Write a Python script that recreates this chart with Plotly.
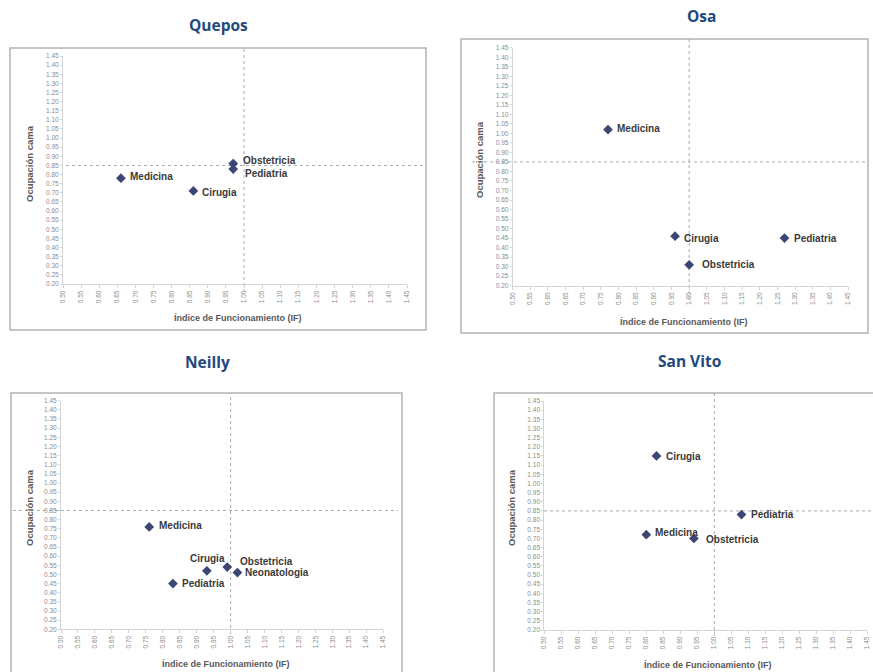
import plotly.graph_objects as go

# ---- data -------------------------------------------------------------
hospitales = ["Quepos", "Osa", "Neilly", "San Vito"]

quepos_servicios = ["Medicina", "Cirugia", "Obstetricia", "Pediatria"]
quepos_if = [0.66, 0.86, 0.97, 0.97]
quepos_ocupacion = [0.78, 0.71, 0.86, 0.83]

osa_servicios = ["Medicina", "Cirugia", "Pediatria", "Obstetricia"]
osa_if = [0.77, 0.96, 1.27, 1.00]
osa_ocupacion = [1.02, 0.46, 0.45, 0.31]

neilly_servicios = ["Medicina", "Cirugia", "Obstetricia", "Neonatologia", "Pediatria"]
neilly_if = [0.76, 0.93, 0.99, 1.02, 0.83]
neilly_ocupacion = [0.76, 0.52, 0.54, 0.51, 0.45]

sanvito_servicios = ["Cirugia", "Pediatria", "Medicina", "Obstetricia"]
sanvito_if = [0.83, 1.08, 0.80, 0.94]
sanvito_ocupacion = [1.15, 0.83, 0.72, 0.70]

# reference values that split each chart into quadrants
if_referencia = 1.00
ocupacion_referencia = 0.85

x_ticks = [0.50, 0.55, 0.60, 0.65, 0.70, 0.75, 0.80, 0.85, 0.90, 0.95,
           1.00, 1.05, 1.10, 1.15, 1.20, 1.25, 1.30, 1.35, 1.40, 1.45]
y_ticks = [0.20, 0.25, 0.30, 0.35, 0.40, 0.45, 0.50, 0.55, 0.60, 0.65,
           0.70, 0.75, 0.80, 0.85, 0.90, 0.95, 1.00, 1.05, 1.10, 1.15,
           1.20, 1.25, 1.30, 1.35, 1.40, 1.45]

x_titulo = "Índice de Funcionamiento (IF)"
y_titulo = "Ocupación cama"

# ---- page geometry (pixels) ------------------------------------------
W, H = 873, 672


def px(x):
    return x / W


def py(y):
    return 1 - y / H


panels = [
    dict(serv=quepos_servicios, xv=quepos_if, yv=quepos_ocupacion,
         plot=(63, 56, 407, 284), box=(10, 48, 426, 330), title=(218, 25),
         xtitle=(238, 318), ytitle=(29, 164), vline=(48, 292), hline=(60, 426),
         offsets=[(7, -2), (7, 2), (8, -3), (10, 4)]),
    dict(serv=osa_servicios, xv=osa_if, yv=osa_ocupacion,
         plot=(512.7, 47.7, 848, 285.7), box=(461, 39, 868, 333), title=(701, 16),
         xtitle=(684, 322), ytitle=(479, 160), vline=(39, 300), hline=(472, 868),
         offsets=[(7, -1), (7, 2), (8, 0), (11, 0)]),
    dict(serv=neilly_servicios, xv=neilly_if, yv=neilly_ocupacion,
         plot=(61, 400.7, 383.3, 629.3), box=(11, 393, 402, 690), title=(207, 362),
         xtitle=(226, 664), ytitle=(29, 508), vline=(393, 634), hline=(13, 398),
         offsets=[(8, -1), None, (11, -6), (6, 0), (7, 0)]),
    dict(serv=sanvito_servicios, xv=sanvito_if, yv=sanvito_ocupacion,
         plot=(544.3, 401, 867.3, 630), box=(494, 393, 890, 690), title=(689, 361),
         xtitle=(708, 665), ytitle=(511, 508), vline=(393, 636), hline=(544, 873),
         offsets=[(7, 1), (7, 0), (7, -2), (10, 1)]),
]

MARKER = "#3d4672"
LABEL = "#3a3a3a"
TITLE = "#1f497d"
GRID = "#d4d4d4"
REF = "#ababab"
FONT = "Liberation Sans"

fig = go.Figure()
shapes = []
annotations = []

for i, (name, p) in enumerate(zip(hospitales, panels)):
    n = "" if i == 0 else str(i + 1)
    xa, ya = "x" + n, "y" + n
    x0, y0, x1, y1 = p["plot"]

    fig.add_trace(go.Scatter(
        x=p["xv"], y=p["yv"], mode="markers", xaxis=xa, yaxis=ya,
        marker=dict(symbol="diamond", size=7.5, color=MARKER),
        hovertext=p["serv"], showlegend=False, cliponaxis=False,
    ))

    fig.layout["xaxis" + n] = dict(
        domain=[px(x0), px(x1)], anchor=ya, range=[0.5, 1.45],
        tickvals=x_ticks, tickformat=".2f", tickangle=-90,
        tickfont=dict(size=6.5, color="#8c8c8c", family=FONT),
        showgrid=False, zeroline=False, showline=True, linecolor=GRID,
        ticks="outside", ticklen=3, tickcolor=GRID, automargin=False,
    )
    fig.layout["yaxis" + n] = dict(
        domain=[py(y1), py(y0)], anchor=xa, range=[0.2, 1.45],
        tickvals=y_ticks, tickformat=".2f",
        tickfont=dict(size=6.5, color="#8c8c8c", family=FONT),
        showgrid=False, zeroline=False, showline=True, linecolor=GRID,
        ticks="outside", ticklen=2, tickcolor=GRID, automargin=False,
    )

    # chart frame
    bx0, by0, bx1, by1 = p["box"]
    shapes.append(dict(type="rect", xref="paper", yref="paper",
                       x0=px(bx0), x1=px(bx1), y0=py(by1), y1=py(by0),
                       line=dict(color="#b3b3b3", width=1.5), layer="below"))

    # quadrant reference lines
    shapes.append(dict(type="line", xref=xa, yref="paper",
                       x0=if_referencia, x1=if_referencia,
                       y0=py(p["vline"][1]), y1=py(p["vline"][0]),
                       line=dict(color=REF, width=1, dash="dot"), layer="below"))
    shapes.append(dict(type="line", xref="paper", yref=ya,
                       x0=px(p["hline"][0]), x1=px(p["hline"][1]),
                       y0=ocupacion_referencia, y1=ocupacion_referencia,
                       line=dict(color=REF, width=1, dash="dot"), layer="below"))

    # point labels
    for s, xv, yv, off in zip(p["serv"], p["xv"], p["yv"], p["offsets"]):
        if off is None:
            annotations.append(dict(x=xv, y=yv, xref=xa, yref=ya, text=s,
                                    showarrow=False, xanchor="center",
                                    yanchor="middle", xshift=1, yshift=12,
                                    font=dict(size=10, color=LABEL, family=FONT,
                                              weight="bold")))
        else:
            annotations.append(dict(x=xv, y=yv, xref=xa, yref=ya, text=s,
                                    showarrow=False, xanchor="left",
                                    yanchor="middle", xshift=off[0],
                                    yshift=-off[1],
                                    font=dict(size=10, color=LABEL, family=FONT,
                                              weight="bold")))

    # panel title
    annotations.append(dict(x=px(p["title"][0]), y=py(p["title"][1]),
                            xref="paper", yref="paper", text=name,
                            showarrow=False, xanchor="center", yanchor="middle",
                            font=dict(size=15.5, color=TITLE, family="Open Sans",
                                      weight="bold")))
    # axis titles
    annotations.append(dict(x=px(p["xtitle"][0]), y=py(p["xtitle"][1]),
                            xref="paper", yref="paper", text=x_titulo,
                            showarrow=False, xanchor="center", yanchor="middle",
                            font=dict(size=9, color="#595959", family=FONT,
                                      weight="bold")))
    annotations.append(dict(x=px(p["ytitle"][0]), y=py(p["ytitle"][1]),
                            xref="paper", yref="paper", text=y_titulo,
                            showarrow=False, textangle=-90,
                            xanchor="center", yanchor="middle",
                            font=dict(size=9.5, color="#595959", family=FONT,
                                      weight="bold")))

fig.update_layout(
    width=W, height=H, autosize=False,
    margin=dict(l=0, r=0, t=0, b=0),
    paper_bgcolor="white", plot_bgcolor="white",
    shapes=shapes, annotations=annotations,
    font=dict(family=FONT),
)

fig.write_html("out.html")
